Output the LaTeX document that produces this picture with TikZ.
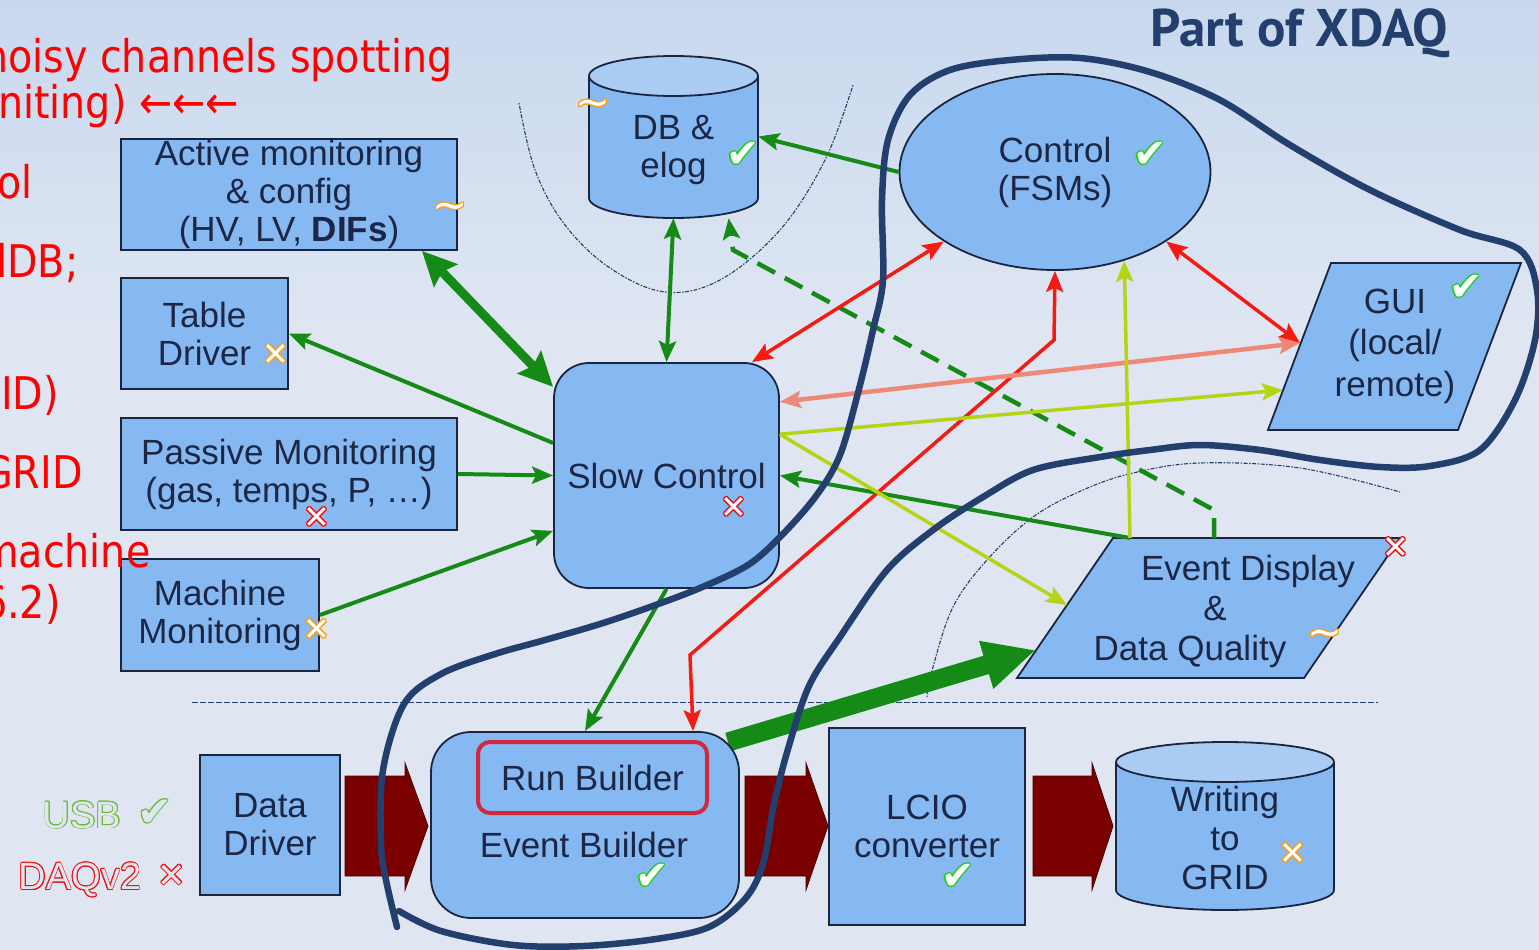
\documentclass[tikz,border=0pt]{standalone}
\usepackage{fontspec}
\setmainfont{Liberation Sans}
\newfontfamily\djv{DejaVu Sans}
\newfontfamily\redf[FakeStretch=0.88]{DejaVu Sans}
\newfontfamily\ptsans{PT Sans}
\usetikzlibrary{arrows.meta,calc,shapes.geometric}
\definecolor{bgtop}{HTML}{C8D8EE}
\definecolor{bgbot}{HTML}{DFE6F2}
\definecolor{boxfill}{HTML}{86B8F2}
\definecolor{boxtop}{HTML}{AACCF3}
\definecolor{boxline}{HTML}{1A2540}
\definecolor{txt}{HTML}{1C2645}
\definecolor{grn}{HTML}{168A16}
\definecolor{rd}{HTML}{F51A12}
\definecolor{salm}{HTML}{F08878}
\definecolor{yg}{HTML}{B4D414}
\definecolor{maroon}{HTML}{7A0000}
\definecolor{navy}{HTML}{233F6D}
\definecolor{redtxt}{HTML}{FF0000}
\definecolor{okgreen}{HTML}{1ED21E}
\definecolor{xred}{HTML}{EE1111}
\definecolor{xorange}{HTML}{F5A020}
\definecolor{usbgreen}{HTML}{6DBB3A}
\definecolor{rbred}{HTML}{D2283C}
\newcommand\omk[7][1.3]{%
  \foreach \ang in {0,30,...,330}{\node[text=#4,inner sep=0pt,font=#6] at ($(#3)+(\ang:#1)$) {#7};}%
  \node[text=#5,inner sep=0pt,font=#6] (#2) at (#3) {#7};}
\newcommand\chkfont{\djv\fontsize{40}{40}\selectfont}
\newcommand\xfont{\djv\fontsize{32}{32}\selectfont}
\newcommand\tfont{\djv\fontsize{42}{42}\selectfont}
\begin{document}
\begin{tikzpicture}[x=1pt,y=-1pt,
  >={Stealth[length=21pt,width=17pt,inset=4pt]},
  box/.style={draw=boxline, line width=1.8pt, fill=boxfill},
  lbl/.style={text=txt, font=\fontsize{35}{38}\selectfont, align=center, inner sep=0pt},
  garr/.style={draw=grn, line width=4pt},
  rarr/.style={draw=rd, line width=3.5pt},
  sarr/.style={draw=salm, line width=4.5pt},
  yarr/.style={draw=yg, line width=3.5pt},
  redtext/.style={text=redtxt, anchor=base west, inner sep=0pt, font=\redf\fontsize{45}{45}\selectfont},
  dotl/.style={draw=navy, line width=1.1pt, dash pattern=on 1.5pt off 1.5pt on 4pt off 1.5pt},
  fat/.style={fill=maroon, draw=maroon!60!black, line width=0.8pt}
]
\useasboundingbox (0,0) rectangle (1539,950);
\fill[bgbot] (0,0) rectangle (1539,950);
\shade[top color=bgtop, bottom color=bgbot] (0,0) rectangle (1539,330);

% dotted arcs and dashed separator
\draw[dotl] plot[smooth, tension=0.6] coordinates {(519,103) (535,170) (565,225) (610,268) (665,292) (720,280) (780,230) (825,160) (853,85)};
\draw[dotl] plot[smooth, tension=0.6] coordinates {(927,697) (933,667) (953,607) (987,560) (1033,517) (1083,490) (1133,473) (1200,463) (1300,468) (1400,492)};
\draw[draw=navy, line width=1pt, dash pattern=on 6pt off 2pt] (192,702) -- (1378,702);

% ---------- nodes ----------
% DB cylinder
\fill[boxfill] (589,76) -- (589,198) arc[start angle=180,end angle=360,x radius=84.5pt,y radius=20pt] -- (758,76) -- cycle;
\draw[boxline, line width=1.8pt] (589,76) -- (589,198) arc[start angle=180,end angle=360,x radius=84.5pt,y radius=20pt] -- (758,76);
\draw[boxline, line width=1.8pt, fill=boxtop] (673.5,76) ellipse[x radius=84.5pt, y radius=20pt];
\node[inner sep=0pt, minimum width=169, minimum height=163] (db) at (673.5,136.5) {};
\node[lbl] (dbl) at (673.5,150) {DB \&\\elog};

% Writing to GRID cylinder
\fill[boxfill] (1116,762) -- (1116,890) arc[start angle=180,end angle=360,x radius=109pt,y radius=20pt] -- (1334,762) -- cycle;
\draw[boxline, line width=1.8pt] (1116,762) -- (1116,890) arc[start angle=180,end angle=360,x radius=109pt,y radius=20pt] -- (1334,762);
\draw[boxline, line width=1.8pt, fill=boxtop] (1225,762) ellipse[x radius=109pt, y radius=20pt];
\node[inner sep=0pt, minimum width=218, minimum height=168] (wr) at (1225,826) {};
\node[lbl, font=\fontsize{35}{39}\selectfont] (wrl) at (1225,838) {Writing\\to\\GRID};

\node[box, lbl, minimum width=336, minimum height=111] (act) at (289,194.5) {Active monitoring\\\& config\\(HV, LV, \textbf{DIFs})};
\node[box, lbl, minimum width=167, minimum height=111] (table) at (204.5,333.5) {Table\\Driver};
\node[box, lbl, minimum width=336, minimum height=112] (passive) at (289,474) {Passive Monitoring\\(gas, temps, P, \dots)};
\node[box, lbl, minimum width=198, minimum height=112] (machine) at (220,615) {Machine\\Monitoring};
\node[box, lbl, rounded corners=35pt, minimum width=225, minimum height=225] (sc) at (666.5,475.5) {Slow Control};
\node[box, lbl, ellipse, minimum width=311, minimum height=196] (ctrl) at (1055,172) {Control\\(FSMs)};

% GUI parallelogram
\draw[box] (1331,263) -- (1521,263) -- (1458,430) -- (1268,430) -- cycle;
\node[lbl, font=\fontsize{35}{41.5}\selectfont] (gui) at (1395,346) {GUI\\(local/\\remote)};
\coordinate (guiL1) at (1300,343);
\coordinate (guiL2) at (1283,390);

% Event display parallelogram
\draw[box] (1113,538) -- (1400,538) -- (1304,678) -- (1017,678) -- cycle;
\node[lbl, anchor=base] (ed1) at (1248,580) {Event Display};
\node[lbl, anchor=base] (ed2) at (1215,620) {\&};
\node[lbl, anchor=base] (ed3) at (1190,660) {Data Quality};
\coordinate (edA) at (1130,538);
\coordinate (edB) at (1214,538);
\coordinate (edL) at (1067,605);
\coordinate (edM) at (1036,650);

% bottom row
\node[box, lbl, minimum width=140, minimum height=140] (dd) at (270,825) {Data\\Driver};
\draw[draw=grn, line width=19pt, -{Triangle[length=52pt,width=46pt]}] (728,742) -- (edM);
\node[box, rounded corners=40pt, minimum width=308, minimum height=186, inner sep=0pt] (eb) at (585,825) {};
\node[draw=rbred, line width=4pt, rounded corners=12pt, minimum width=229, minimum height=71, lbl] (rb) at (592.5,777.5) {Run Builder};
\node[lbl] (ebl) at (584,845) {Event Builder};
\node[box, lbl, minimum width=196, minimum height=197] (lcio) at (927,826.5) {LCIO\\converter};

% fat data-flow arrows
\fill[fat] (345,776) -- (405,776) -- (405,763) -- (428,826) -- (405,890) -- (405,876) -- (345,876) -- cycle;
\fill[fat] (745,776) -- (806,776) -- (806,763) -- (828,826) -- (806,890) -- (806,876) -- (745,876) -- cycle;
\fill[fat] (1033,776) -- (1092,776) -- (1092,763) -- (1113,826) -- (1092,890) -- (1092,876) -- (1033,876) -- cycle;

% ---------- connectors ----------
\draw[garr,->] (ctrl.west) -- (db.east);
\draw[garr,<->] (db.south) -- (sc.north);
\draw[draw=grn, line width=9pt, {Stealth[length=34pt,width=32pt,inset=5pt]}-{Stealth[length=34pt,width=32pt,inset=5pt]}] (act.-23) -- (sc.142);
\draw[garr,->] (sc.164) -- (table.east);
\draw[garr,->] (passive.east) -- (sc.west);
\draw[garr,->] (machine.east) -- (sc.206.7);
\draw[garr,->] (sc.south) -- (eb.north);
\draw[garr,->] (edA) -- (sc.east);
\coordinate (dsh1) at (1214,510);
\coordinate (dsh2) at (733,250);
\draw[garr,->, line width=4.5pt, dash pattern=on 20pt off 11pt] (edB) -- (dsh1) -- (dsh2) -- (db.-56);

\coordinate (rb1) at (690,655);
\coordinate (rb2) at (1054,340);
\draw[rarr,<->] (ctrl.212) -- (sc.53);
\draw[rarr,<->] (eb.41.5) -- (rb1) -- (rb2) -- (ctrl.south);
\draw[rarr,<->] (ctrl.-32) -- (guiL1);
\draw[sarr,<->] (sc.33) -- (guiL1);
\draw[yarr,->] (sc.20) -- (guiL2);
\draw[yarr,->] (sc.20) -- (edL);
\draw[yarr,->] (edA) -- (ctrl.-52.8);

% ---------- status marks ----------
\omk{m1}{593,108}{xorange}{white}{\tfont}{\textasciitilde}
\omk{m2}{743,155}{okgreen}{white}{\chkfont}{✔}
\omk{m3}{450,211}{xorange}{white}{\tfont}{\textasciitilde}
\omk{m4}{276,355}{xorange}{white}{\xfont}{✕}
\omk{m5}{317,518}{xred}{white}{\xfont}{✕}
\omk{m6}{317,630}{xorange}{white}{\xfont}{✕}
\omk{m7}{734,508}{xred}{white}{\xfont}{✕}
\omk{m8}{1150,155}{okgreen}{white}{\chkfont}{✔}
\omk{m9}{1466,288}{okgreen}{white}{\chkfont}{✔}
\omk{m10}{1396,548}{xred}{white}{\xfont}{✕}
\omk{m11}{1325,638}{xorange}{white}{\tfont}{\textasciitilde}
\omk{m12}{652,877}{okgreen}{white}{\chkfont}{✔}
\omk{m13}{958,877}{okgreen}{white}{\chkfont}{✔}
\omk{m14}{1293,854}{xorange}{white}{\xfont}{✕}
\omk[0.8]{usb}{82,815}{usbgreen}{bgbot}{\fontsize{38}{38}\selectfont}{USB}
\omk[0.9]{usbok}{155,813}{usbgreen}{bgbot}{\djv\fontsize{42}{42}\selectfont}{✔}
\omk[0.8]{daq}{80,880}{xred}{bgbot}{\fontsize{38}{38}\selectfont}{DAQv2}
\omk[0.9]{daqx}{172,876}{xred}{bgbot}{\djv\fontsize{34}{34}\selectfont}{✕}

% ---------- XDAQ outline ----------
\draw[navy, line width=6.5pt, line cap=round, line join=round] plot[smooth, tension=0.55] coordinates {
(397,927) (386,880) (381,844) (383,770) (404,704) (441,674) (495,654) (545,640) (600,624) (650,607) (700,588) (748,565) (781,536) (816,496) (840,455) (859,389) (873,330) (883,280) (882,200) (888,140) (910,95) (950,70) (1010,60) (1080,58) (1150,72) (1220,100) (1290,145) (1370,190) (1460,230) (1520,250) (1537,290) (1535,340) (1515,400) (1480,450) (1430,466) (1380,467) (1320,460) (1260,450) (1200,445) (1150,450) (1100,457) (1033,470) (983,497) (933,530) (887,570) (840,637) (809,686) (788,749) (774,804) (763,864) (745,899) (709,927) (656,939) (584,946) (513,945) (441,931) (399,911)};

\node[anchor=base west, inner sep=0pt, text=navy, font=\ptsans\bfseries\fontsize{53}{53}\selectfont] (xdaq) at (1150,47) {Part of XDAQ};

% ---------- red annotations (cut at left edge) ----------
\node[redtext] (r1) at (-17,72) {noisy channels spotting};
\node[redtext] (r2) at (-2,118) {niting) ←←←};
\node[redtext] (r3) at (-3,198) {ol};
\node[redtext] (r4) at (-18,277) {dDB;};
\node[redtext] (r5) at (1,409) {ID)};
\node[redtext] (r6) at (-18,488) {GRID};
\node[redtext] (r7) at (-20,567) {machine};
\node[redtext] (r8) at (-18,618) {6.2)};
\end{tikzpicture}
\end{document}
